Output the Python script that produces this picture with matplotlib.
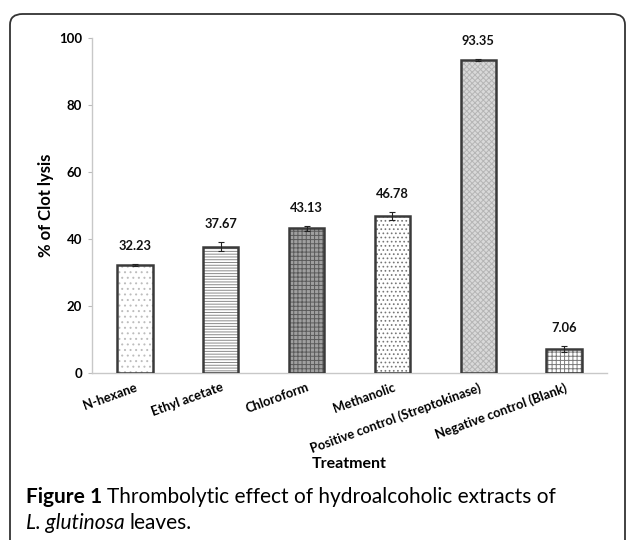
import matplotlib
matplotlib.use("Agg")
import matplotlib.pyplot as plt
from matplotlib.patches import FancyBboxPatch
import numpy as np

categories = ["N-hexane", "Ethyl acetate", "Chloroform", "Methanolic",
              "Positive control (Streptokinase)", "Negative control (Blank)"]
values = [32.23, 37.67, 43.13, 46.78, 93.35, 7.06]
errors = [0.3, 1.4, 0.7, 1.1, 0.4, 0.9]
value_labels = ["32.23", "37.67", "43.13", "46.78", "93.35", "7.06"]
y_ticks = [0, 20, 40, 60, 80, 100]

faces = ["white", "white", "#a0a0a0", "white", "#d9d9d9", "white"]
hatch_cols = ["#bdbdbd", "#8a8a8a", "#5a5a5a", "#777777", "#b5b5b5", "#7a7a7a"]
hatches = ["...", "------", "++++", "....", "xxxxxx", "++++"]

plt.rcParams['font.family'] = ['Lato', 'DejaVu Sans']
plt.rcParams['hatch.linewidth'] = 0.7

fig = plt.figure(figsize=(6.28, 5.40), dpi=100)
W, H = 628, 540

# border box
box = FancyBboxPatch((10 / W, -0.05), (625 - 10) / W, (540 - 14) / H + 0.05,
                     boxstyle="round,pad=0,rounding_size=0.02",
                     transform=fig.transFigure, fill=False,
                     edgecolor="#333333", linewidth=1.3, clip_on=False)
fig.patches.append(box)

ax = fig.add_axes([92 / W, (540 - 373) / H, (607 - 92) / W, (373 - 37.7) / H])
x = np.arange(len(categories))
bw = 0.41
for i in range(len(categories)):
    ax.bar(x[i], values[i], width=bw, color=faces[i], hatch=hatches[i],
           edgecolor=hatch_cols[i], linewidth=0, zorder=2)
    ax.bar(x[i], values[i], width=bw, fill=False, edgecolor="#3a3a3a",
           linewidth=1.8, zorder=3)
ax.errorbar(x, values, yerr=errors, fmt="none", ecolor="#222222",
            elinewidth=0.8, capsize=2.5, capthick=0.8, zorder=4)
for i in range(len(categories)):
    ax.annotate(value_labels[i], (x[i], values[i] + errors[i]),
                xytext=(0, 13), textcoords="offset points",
                ha="center", va="center", fontsize=9.3, fontweight="bold",
                color="#111111")

ax.set_xlim(-0.5, len(categories) - 0.5)
ax.set_ylim(0, 100)
ax.set_yticks(y_ticks)
ax.set_yticklabels([str(t) for t in y_ticks], fontsize=9.5, fontweight="bold")
ax.set_xticks(x)
ax.set_xticklabels(categories, rotation=20, ha="right", rotation_mode="anchor",
                   fontsize=9.3, fontweight="bold")
ax.tick_params(axis="x", length=0, pad=6)
ax.tick_params(axis="y", length=3, color="#bbbbbb", pad=4)
for s in ["top", "right"]:
    ax.spines[s].set_visible(False)
for s in ["left", "bottom"]:
    ax.spines[s].set_color("#c8c8c8")
    ax.spines[s].set_linewidth(1.0)
ax.set_ylabel("% of Clot lysis", fontsize=12, fontweight="bold", labelpad=4)

fig.text(349 / W, 1 - 464 / H, "Treatment", ha="center", va="center",
         fontsize=11.5, fontweight="bold")

# caption
cap_size = 15
t1 = fig.text(26 / W, 1 - 503 / H, "Figure 1", fontsize=cap_size,
              fontweight="bold", va="baseline", ha="left")
fig.canvas.draw()
bb = t1.get_window_extent()
fig.text((bb.x1 + 5) / W, 1 - 503 / H,
         "Thrombolytic effect of hydroalcoholic extracts of",
         fontsize=cap_size, va="baseline", ha="left")
t2 = fig.text(26 / W, 1 - 529 / H, "L. glutinosa", fontsize=cap_size,
              style="italic", va="baseline", ha="left")
fig.canvas.draw()
bb2 = t2.get_window_extent()
fig.text((bb2.x1 + 5) / W, 1 - 529 / H, "leaves.", fontsize=cap_size,
         va="baseline", ha="left")

fig.savefig("out.png", dpi=100)
